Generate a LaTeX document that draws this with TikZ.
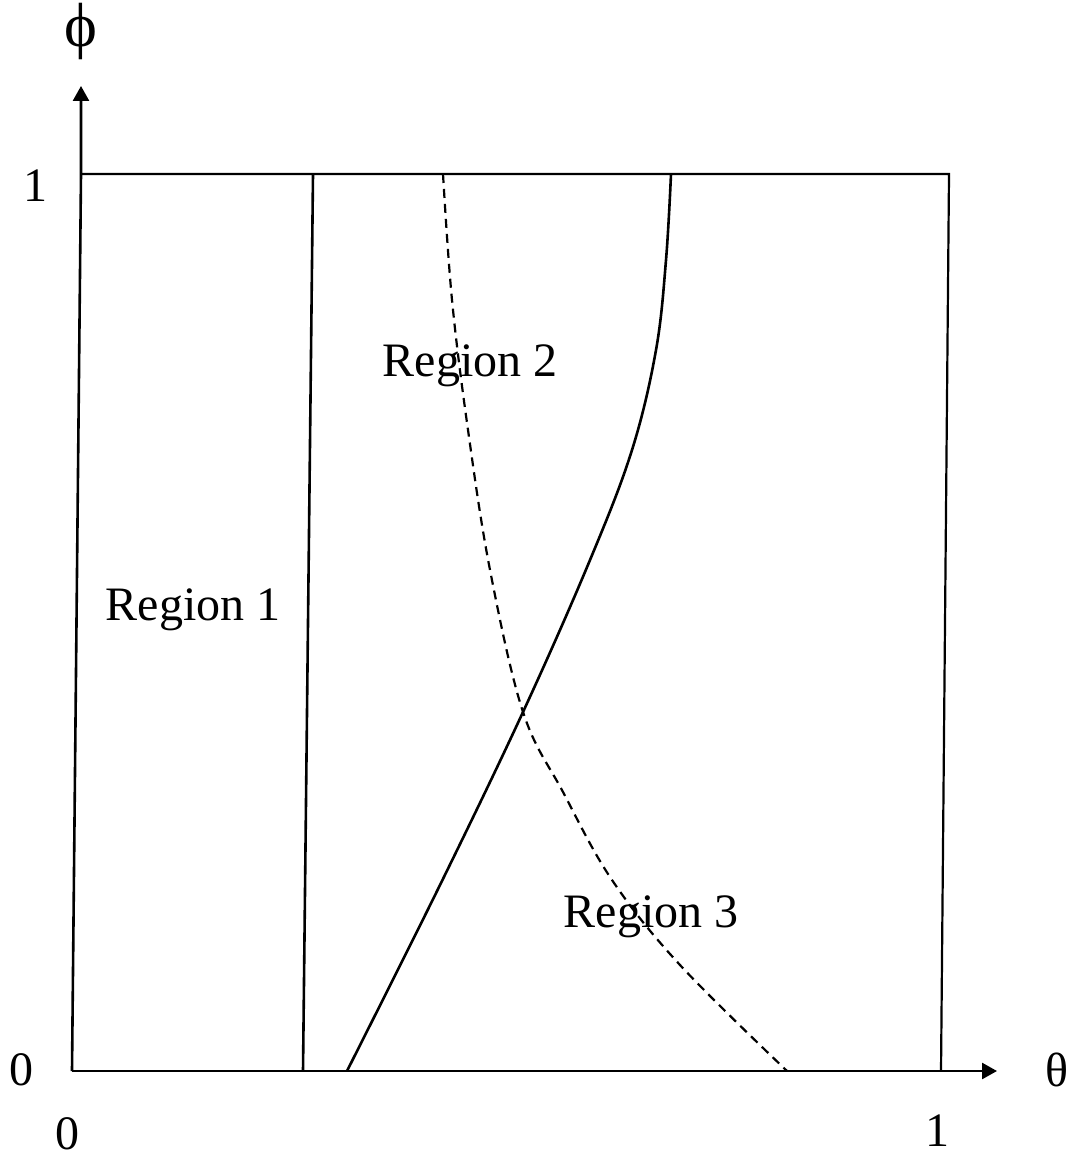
\documentclass[tikz,border=0pt]{standalone}
\usepackage{fontspec}
\setmainfont{Liberation Serif}
\usetikzlibrary{arrows.meta}

\begin{document}
\begin{tikzpicture}[x=0.5pt, y=-0.5pt, font=\fontsize{24}{28}\selectfont,
    axis/.style={line width=1.3pt, -{Triangle[length=7.5pt, width=8pt]}},
    edge/.style={line width=1.1pt},
    bound/.style={line width=1.3pt},
    guess/.style={line width=1.1pt, dash pattern=on 4.5pt off 3pt},
    lbl/.style={inner sep=0pt}]
    \useasboundingbox (0,0) rectangle (1083,1159);

    % unit square and axes
    \coordinate (O) at (72,1071);
    \coordinate (TL) at (81,174);
    \coordinate (TR) at (949,174);
    \coordinate (BR) at (941,1071);
    \coordinate (phiTip) at (81,86);
    \coordinate (thetaTip) at (997,1071);

    \draw[axis] (O) -- (TL) -- (phiTip);
    \draw[axis] (O) -- (thetaTip);
    \draw[edge] (TL) -- (TR) -- (BR);

    % region boundaries
    \coordinate (wallBot) at (303,1071);
    \coordinate (wallTop) at (313,174);
    \draw[bound] (wallBot) -- (wallTop);
    \draw[bound] plot[smooth, tension=0.6] coordinates {(347,1071) (440,885) (523,712) (590,560) (632,450) (656,350) (666,260) (671,174)};
    \draw[guess] plot[smooth, tension=0.6] coordinates {(443,174) (452,300) (468,430) (490,570) (523,712) (563,792) (612,880) (680,965) (787,1071)};

    % labels
    \node[lbl, scale=1.3] (phi) at (81,32) {ϕ};
    \node[lbl] (theta) at (1057,1070) {θ};
    \node[lbl] (yOne) at (35,186) {1};
    \node[lbl] (yZero) at (22,1070) {0};
    \node[lbl, anchor=base] (xZero) at (67,1149) {0};
    \node[lbl, anchor=base] (xOne) at (937,1146) {1};
    \node[lbl, anchor=base] (regA) at (193,620) {Region 1};
    \node[lbl, anchor=base] (regB) at (470,377) {Region 2};
    \node[lbl, anchor=base] (regC) at (651,927) {Region 3};
\end{tikzpicture}
\end{document}
